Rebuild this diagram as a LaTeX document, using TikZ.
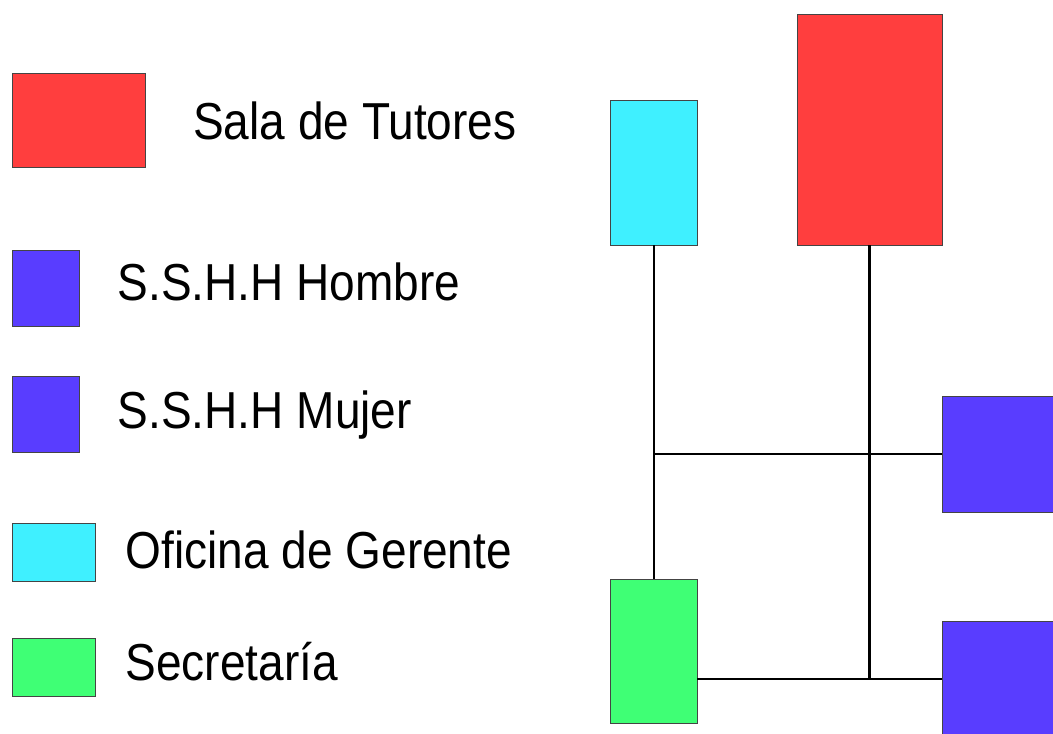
\documentclass[tikz,border=0pt]{standalone}
\usepackage{fontspec}
\setmainfont[FakeStretch=0.885]{Liberation Sans}
\definecolor{cred}{HTML}{FF3E3E}
\definecolor{ccyan}{HTML}{3FF0FF}
\definecolor{cblue}{HTML}{593DFF}
\definecolor{cgreen}{HTML}{3FFF75}
\definecolor{cedge}{HTML}{444444}
\begin{document}
\begin{tikzpicture}[x=1pt,y=-1pt,
  room/.style={draw=cedge,line width=1pt,anchor=north west,inner sep=0pt,outer sep=0pt},
  lab/.style={anchor=base west,inner sep=0pt,font=\fontsize{52}{52}\selectfont},
  wire/.style={line width=2.5pt,black}]
\useasboundingbox (0,0) rectangle (1053,734);
\clip (0,0) rectangle (1053,734);
% legend
\node[room,fill=cred,minimum width=133pt,minimum height=94pt] (lred) at (12,73) {};
\node[room,fill=cblue,minimum width=67pt,minimum height=76pt] (lblue1) at (12,250) {};
\node[room,fill=cblue,minimum width=67pt,minimum height=76pt] (lblue2) at (12,376) {};
\node[room,fill=ccyan,minimum width=83pt,minimum height=58pt] (lcyan) at (12,523) {};
\node[room,fill=cgreen,minimum width=83pt,minimum height=58pt] (lgreen) at (12,638) {};
\node[lab] (t1) at (193,139.3) {Sala de Tutores};
\node[lab] (t2) at (117.5,300.7) {S.S.H.H Hombre};
\node[lab] (t3) at (117.5,428.3) {S.S.H.H Mujer};
\node[lab] (t4) at (125.5,568.3) {Oficina de Gerente};
\node[lab] (t5) at (125.5,680) {Secretaría};
% plan
\node[room,fill=ccyan,minimum width=86.5pt,minimum height=144.5pt] (cyan) at (610.5,100.7) {};
\node[room,fill=cred,minimum width=145pt,minimum height=231pt] (red) at (797,14.3) {};
\node[room,fill=cgreen,minimum width=86.5pt,minimum height=144pt] (green) at (610.5,579) {};
\node[room,fill=cblue,minimum width=130pt,minimum height=116pt] (blue1) at (942,396) {};
\node[room,fill=cblue,minimum width=130pt,minimum height=116pt] (blue2) at (942,621) {};
\draw[wire] (cyan.south) -- (green.north);
\draw[wire] (red.south) -- (red.south |- blue2.west);
\draw[wire] (blue1.west) -- (blue1.west -| cyan.south);
\draw[wire] (blue2.west) -- (blue2.west -| green.east);
\end{tikzpicture}
\end{document}
